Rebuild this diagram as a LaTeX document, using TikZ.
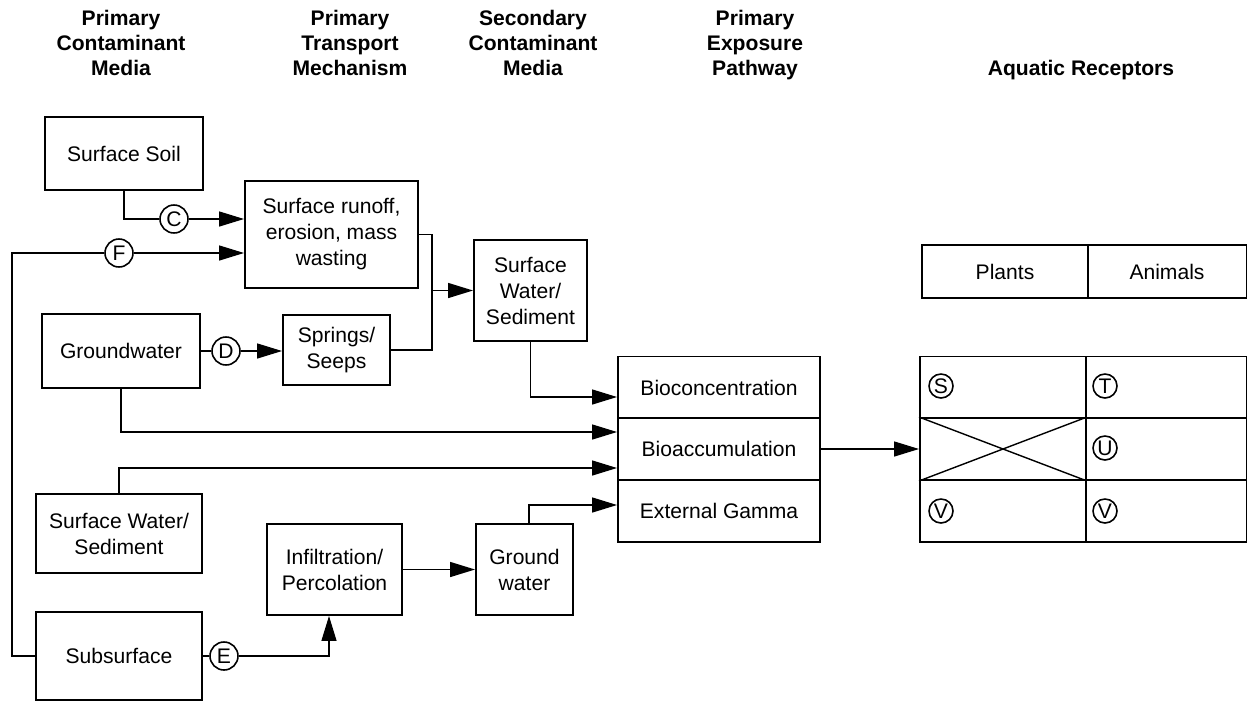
\documentclass[tikz,border=0pt]{standalone}
\usepackage{fontspec}
\setmainfont{Liberation Sans}
\usetikzlibrary{arrows.meta}

\begin{document}
\begin{tikzpicture}[x=0.02cm, y=-0.02cm, font=\fontsize{12}{14.8}\selectfont,
    box/.style={draw, line width=1.1pt, align=center, inner sep=0pt},
    link/.style={line width=0.8pt},
    post/.style={-{Triangle[length=0.5cm, width=0.3cm]}},
    tag/.style={circle, draw, line width=0.9pt, inner sep=0pt, minimum size=0.56cm},
    tagsmall/.style={circle, draw, line width=0.9pt, inner sep=0pt, minimum size=0.48cm},
    head/.style={align=center, font=\fontsize{12}{14.2}\selectfont\bfseries}]

   \useasboundingbox (0,0) rectangle (1249,704);

   % column headings
   \node[head] (h1) at (121,43) {Primary\\Contaminant\\Media};
   \node[head] (h2) at (350,43) {Primary\\Transport\\Mechanism};
   \node[head] (h3) at (533,43) {Secondary\\Contaminant\\Media};
   \node[head] (h4) at (755,45) {Primary\\Exposure\\Pathway};
   \node[head] (h5) at (1081,70) {Aquatic Receptors};

   % media and mechanism boxes
   \node[box, minimum width=3.16cm, minimum height=1.46cm] (ssoil) at (124,153.5) {Surface Soil};
   \node[box, minimum width=3.46cm, minimum height=2.14cm] (runoff) at (331.5,234.5) {Surface runoff,\\erosion, mass\\wasting};
   \node[box, minimum width=3.16cm, minimum height=1.48cm] (gw) at (121,351) {Groundwater};
   \node[box, minimum width=2.14cm, minimum height=1.40cm] (springs) at (336.5,350) {Springs/\\Seeps};
   \node[box, minimum width=2.26cm, minimum height=2.02cm] (swsec) at (530.5,290.5) {Surface\\Water/\\Sediment};
   \node[box, minimum width=3.32cm, minimum height=1.58cm] (swprim) at (119,533.5) {Surface Water/\\Sediment};
   \node[box, minimum width=2.70cm, minimum height=1.82cm] (infil) at (334.5,569.5) {Infiltration/\\Percolation};
   \node[box, minimum width=1.94cm, minimum height=1.82cm] (gwsec) at (524.5,569.5) {Ground\\water};
   \node[box, minimum width=3.32cm, minimum height=1.76cm] (subs) at (119,656) {Subsurface};

   % exposure pathways
   \foreach \y/\t/\n in {387.5/Bioconcentration/bioconc, 449/Bioaccumulation/bioacc, 511/External Gamma/gamma}
     \node[box, minimum width=4.04cm, minimum height=1.24cm] (\n) at (719,\y) {\t};

   % receptors
   \node[box, minimum width=3.32cm, minimum height=1.06cm] (plants) at (1005,271.5) {Plants};
   \node[box, minimum width=3.18cm, minimum height=1.06cm] (animals) at (1167,271.5) {Animals};
   \foreach \r/\y in {1/387.5, 2/449, 3/511} {
     \node[box, minimum width=3.32cm, minimum height=1.24cm] (r\r1) at (1003,\y) {};
     \node[box, minimum width=3.22cm, minimum height=1.24cm] (r\r2) at (1166,\y) {};
   }
   \draw[line width=0.8pt] (r21.north west) -- (r21.south east) (r21.south west) -- (r21.north east);
   \foreach [count=\i] \x/\y/\t in {941/386/S, 1105/386/T, 1105/448/U, 941/511/V, 1105/511/V}
     \node[tagsmall] (m\i) at (\x,\y) {\t};

   % pathway tags
   \foreach \x/\y/\t in {174/219/C, 119/253/F, 226/351/D, 224/656/E}
     \node[tag] (t\t) at (\x,\y) {\t};

   \coordinate (fl) at (12,253);
   \coordinate (jn) at (432,290.5);

   % connectors
   \draw[link] (ssoil.south) |- (tC);
   \draw[link, post] (tC) -- (tC -| runoff.west);
   \draw[link] (subs.west) -| (fl) -- (tF);
   \draw[link, post] (tF) -- (tF -| runoff.west);
   \draw[link] (gw.east) -- (tD);
   \draw[link, post] (tD) -- (tD -| springs.west);
   \draw[link] (runoff.east) -| (jn) |- (springs.east);
   \draw[link, post] (jn) -- (jn -| swsec.west);
   \draw[link, post] (swsec.south) |- ([yshift=-0.19cm]bioconc.west);
   \draw[link, post] (gw.south) |- ([yshift=0.34cm]bioacc.west);
   \draw[link, post] (swprim.north) |- ([yshift=-0.38cm]bioacc.west);
   \draw[link, post] ([xshift=0.09cm]gwsec.north) |- ([yshift=0.12cm]gamma.west);
   \draw[link, post] (infil.east) -- (infil.east -| gwsec.west);
   \draw[link] (subs.east) -- (tE);
   \draw[link, post] (tE) -| ([xshift=-0.11cm]infil.south);
   \draw[link, post] (bioacc.east) -- (r21.west);

\end{tikzpicture}
\end{document}
